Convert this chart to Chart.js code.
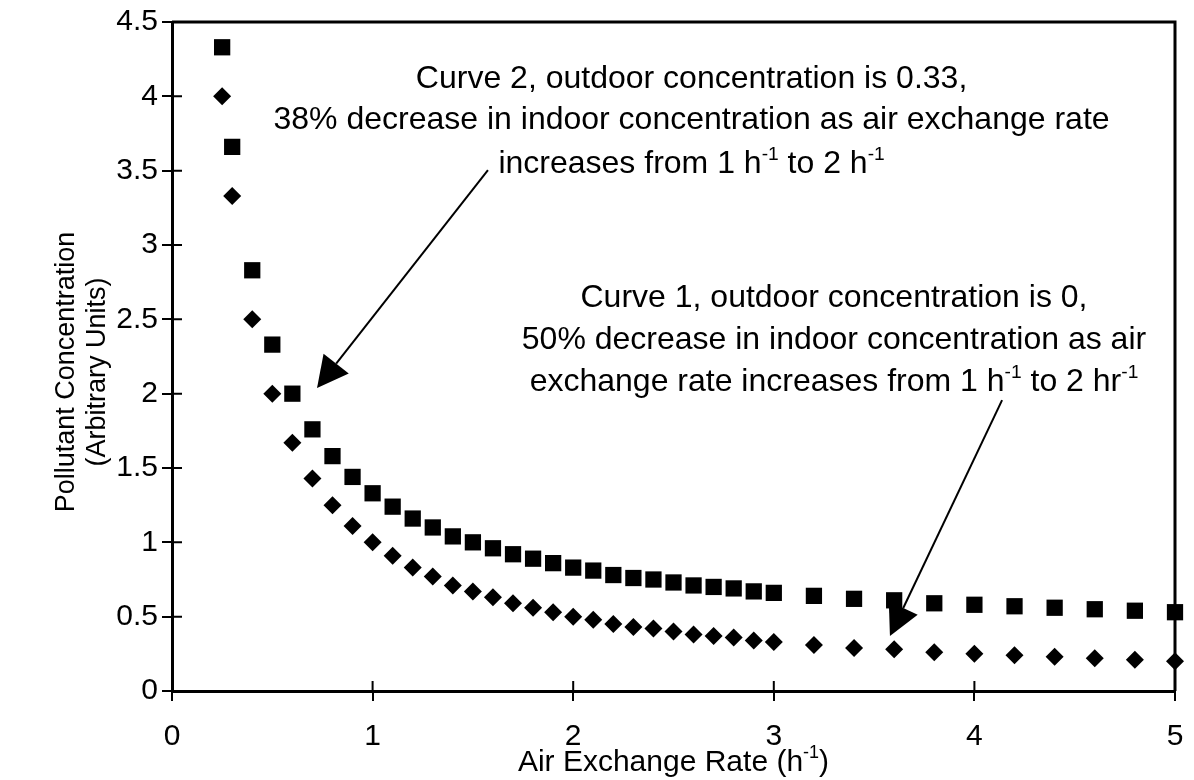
<!DOCTYPE html>
<html>
<head>
<meta charset="utf-8">
<title>Pollutant concentration vs air exchange rate</title>
<script src="https://cdn.jsdelivr.net/npm/chart.js@4.4.1/dist/chart.umd.min.js"></script>
<style>
  html, body { margin: 0; padding: 0; background: #fff; }
  #chart { display: block; }
</style>
</head>
<body>
<canvas id="chart" width="1194" height="780"></canvas>
<script>
// air exchange rate (h-1) where both curves were sampled
const airExchange = [0.25, 0.3, 0.4, 0.5, 0.6, 0.7, 0.8, 0.9, 1.0, 1.1, 1.2, 1.3, 1.4, 1.5, 1.6, 1.7, 1.8, 1.9, 2.0,
    2.1, 2.2, 2.3, 2.4, 2.5, 2.6, 2.7, 2.8, 2.9, 3.0, 3.2, 3.4, 3.6, 3.8, 4.0, 4.2, 4.4, 4.6, 4.8, 5.0];

// curve 1, outdoor concentration 0 (diamonds)
const curve1 = [4.0, 3.33, 2.5, 2.0, 1.67, 1.43, 1.25, 1.11, 1.0, 0.91, 0.83, 0.77, 0.71, 0.67, 0.63, 0.59, 0.56, 0.53, 0.5,
    0.48, 0.45, 0.43, 0.42, 0.4, 0.38, 0.37, 0.36, 0.34, 0.33, 0.31, 0.29, 0.28, 0.26, 0.25, 0.24, 0.23, 0.22, 0.21, 0.2];

// curve 2, outdoor concentration 0.33 (squares)
const curve2 = [4.33, 3.66, 2.83, 2.33, 2.0, 1.76, 1.58, 1.44, 1.33, 1.24, 1.16, 1.1, 1.04, 1.0, 0.96, 0.92, 0.89, 0.86, 0.83,
    0.81, 0.78, 0.76, 0.75, 0.73, 0.71, 0.7, 0.69, 0.67, 0.66, 0.64, 0.62, 0.61, 0.59, 0.58, 0.57, 0.56, 0.55, 0.54, 0.53];

const xRange = [0, 5];
const yRange = [0, 4.5];

// annotation text, [text, isSuperscript] pieces per line
const note2 = [
    [['Curve 2, outdoor concentration is 0.33,', false]],
    [['38% decrease in indoor concentration as air exchange rate', false]],
    [['increases from 1 h', false], ['-1', true], [' to 2 h', false], ['-1', true]]
];
const note1 = [
    [['Curve 1, outdoor concentration is 0,', false]],
    [['50% decrease in indoor concentration as air', false]],
    [['exchange rate increases from 1 h', false], ['-1', true], [' to 2 hr', false], ['-1', true]]
];

const FONT = '"Liberation Sans", Arial, sans-serif';

function richWidth(ctx, parts, size) {
    let w = 0;
    parts.forEach(([t, sup]) => {
        ctx.font = (sup ? size * 0.6 : size) + 'px ' + FONT;
        w += ctx.measureText(t).width;
    });
    return w;
}

function drawRich(ctx, parts, cx, baseY, size) {
    let px = cx - richWidth(ctx, parts, size) / 2;
    ctx.textAlign = 'left';
    ctx.textBaseline = 'alphabetic';
    parts.forEach(([t, sup]) => {
        ctx.font = (sup ? size * 0.6 : size) + 'px ' + FONT;
        ctx.fillText(t, px, sup ? baseY - size * 0.42 : baseY);
        px += ctx.measureText(t).width;
    });
}

function drawArrow(ctx, x1, y1, x2, y2) {
    const ang = Math.atan2(y2 - y1, x2 - x1);
    const len = 31, half = 16;
    const bx = x2 - Math.cos(ang) * len, by = y2 - Math.sin(ang) * len;
    ctx.lineWidth = 2;
    ctx.beginPath();
    ctx.moveTo(x1, y1);
    ctx.lineTo(bx, by);
    ctx.stroke();
    ctx.beginPath();
    ctx.moveTo(x2, y2);
    ctx.lineTo(bx + Math.sin(ang) * half, by - Math.cos(ang) * half);
    ctx.lineTo(bx - Math.sin(ang) * half, by + Math.cos(ang) * half);
    ctx.closePath();
    ctx.fill();
}

const overlay = {
    id: 'overlay',
    afterDraw(chart) {
        const { ctx, chartArea: a, scales: { x, y } } = chart;
        ctx.save();
        ctx.strokeStyle = '#000';
        ctx.fillStyle = '#000';

        // top and right side of the frame
        ctx.lineWidth = 3;
        ctx.beginPath();
        ctx.moveTo(a.left, a.top);
        ctx.lineTo(a.right, a.top);
        ctx.lineTo(a.right, a.bottom);
        ctx.stroke();

        // inner half of the cross tick marks
        ctx.lineWidth = 2;
        ctx.beginPath();
        y.ticks.forEach(t => {
            const py = y.getPixelForValue(t.value);
            ctx.moveTo(a.left, py);
            ctx.lineTo(a.left + 10, py);
        });
        x.ticks.forEach(t => {
            const px = x.getPixelForValue(t.value);
            ctx.moveTo(px, a.bottom);
            ctx.lineTo(px, a.bottom - 10);
        });
        ctx.stroke();

        // annotations
        const size = 32;
        const c2x = x.getPixelForValue(2.59);
        [4.055, 3.78, 3.483].forEach((v, i) => drawRich(ctx, note2[i], c2x, y.getPixelForValue(v), size));
        const c1x = x.getPixelForValue(3.3);
        [2.582, 2.3, 2.017].forEach((v, i) => drawRich(ctx, note1[i], c1x, y.getPixelForValue(v), size));

        drawArrow(ctx, x.getPixelForValue(1.575), y.getPixelForValue(3.504),
            x.getPixelForValue(0.723), y.getPixelForValue(2.038));
        drawArrow(ctx, x.getPixelForValue(4.138), y.getPixelForValue(1.957),
            x.getPixelForValue(3.579), y.getPixelForValue(0.37));

        // axis titles
        drawRich(ctx, [['Air Exchange Rate (h', false], ['-1', true], [')', false]],
            (a.left + a.right) / 2, 771, 30);

        ctx.save();
        ctx.translate(64, 372);
        ctx.rotate(-Math.PI / 2);
        drawRich(ctx, [['Pollutant Concentration', false]], 0, 10, 27);
        drawRich(ctx, [['(Arbitrary Units)', false]], 0, 41, 27);
        ctx.restore();

        ctx.restore();
    }
};

new Chart(document.getElementById('chart'), {
    type: 'scatter',
    data: {
        datasets: [
            {
                label: 'Curve 2',
                data: airExchange.map((v, i) => ({ x: v, y: curve2[i] })),
                pointStyle: 'rect',
                pointRadius: 11.5,
                backgroundColor: '#000',
                borderWidth: 0,
                clip: false
            },
            {
                label: 'Curve 1',
                data: airExchange.map((v, i) => ({ x: v, y: curve1[i] })),
                pointStyle: 'rectRot',
                pointRadius: 9,
                backgroundColor: '#000',
                borderWidth: 0,
                clip: false
            }
        ]
    },
    options: {
        responsive: false,
        animation: false,
        devicePixelRatio: 1,
        layout: { padding: { top: 22, right: 19, left: 0, bottom: 0 } },
        plugins: { legend: { display: false }, tooltip: { enabled: false } },
        scales: {
            x: {
                type: 'linear',
                min: xRange[0],
                max: xRange[1],
                afterFit: s => { s.height = 89; s.paddingLeft = 0; s.paddingRight = 0; },
                ticks: { stepSize: 1, color: '#000', padding: 18, font: { family: FONT, size: 30 } },
                grid: { drawOnChartArea: false, drawTicks: true, tickLength: 10, color: '#000', lineWidth: 2 },
                border: { display: true, color: '#000', width: 3 }
            },
            y: {
                type: 'linear',
                min: yRange[0],
                max: yRange[1],
                afterFit: s => { s.width = 172; s.paddingTop = 0; s.paddingBottom = 0; },
                ticks: {
                    stepSize: 0.5, color: '#000', padding: 4, font: { family: FONT, size: 30 },
                    callback: v => String(v)
                },
                grid: { drawOnChartArea: false, drawTicks: true, tickLength: 10, color: '#000', lineWidth: 2 },
                border: { display: true, color: '#000', width: 3 }
            }
        }
    },
    plugins: [overlay]
});
</script>
</body>
</html>
